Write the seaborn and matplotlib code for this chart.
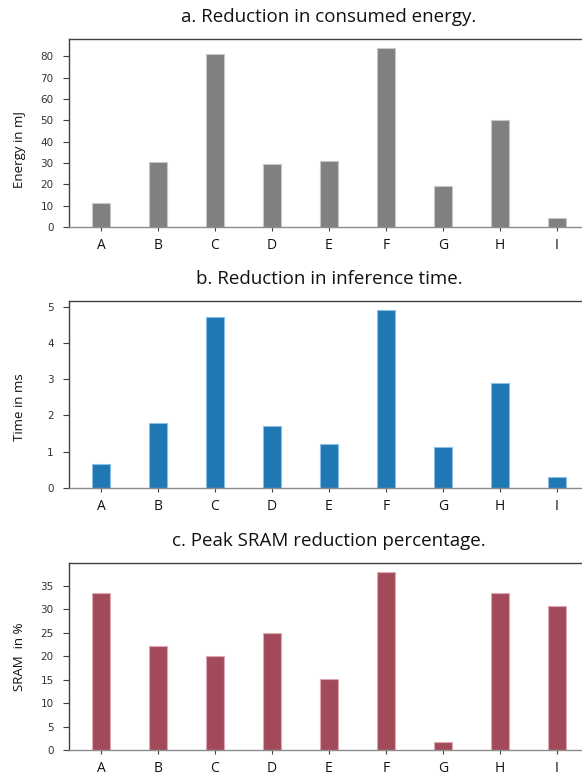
import matplotlib
matplotlib.use("Agg")
import matplotlib.pyplot as plt
import seaborn as sns

# data
models = ["A", "B", "C", "D", "E", "F", "G", "H", "I"]
energy_mj = [11.1, 30.7, 81.1, 29.5, 31.0, 84.0, 19.4, 50.0, 4.3]
time_ms = [0.66, 1.79, 4.71, 1.72, 1.21, 4.91, 1.14, 2.89, 0.29]
sram_pct = [33.4, 22.2, 20.0, 24.9, 15.1, 38.0, 1.7, 33.4, 30.8]

titles = ["a. Reduction in consumed energy.",
          "b. Reduction in inference time.",
          "c. Peak SRAM reduction percentage."]
ylabels = ["Energy in mJ", "Time in ms", "SRAM  in %"]

sns.set_style("ticks")
plt.rcParams['font.family'] = ['Open Sans', 'DejaVu Sans']

W, H = 582, 781
fig = plt.figure(figsize=(W / 100, H / 100), dpi=100)

# axes boxes in pixels: (top, bottom) of each panel
boxes = [(39, 227), (301, 488), (563, 750)]
label_y = [0.41, 0.43, 0.5]
colors = ["#808080", "#1f77b4", "#a34a5a"]
edges = ["#c8c8c8", "#8cbfe6", "#e0a8b4"]
series = [energy_mj, time_ms, sram_pct]

left_px = 69
width_px = 9.12 * 57

for i, vals in enumerate(series):
    top, bot = boxes[i]
    ax = fig.add_axes([left_px / W, (H - bot) / H, width_px / W, (bot - top) / H])
    sns.barplot(x=models, y=vals, color=colors[i], saturation=1, width=0.32,
                edgecolor=edges[i], linewidth=0.8, ax=ax)
    ax.set_xlim(-0.56, 8.56)
    ax.set_ylim(0, max(vals) * 1.05)
    ax.spines['right'].set_visible(False)
    for s in ['left', 'top']:
        ax.spines[s].set_color('#404040')
        ax.spines[s].set_linewidth(1.0)
    ax.spines['bottom'].set_color('#8c8c8c')
    ax.spines['bottom'].set_linewidth(1.0)
    ax.tick_params(axis='y', labelsize=7.5, pad=7, length=4, color='#404040', labelcolor='#333333')
    ax.tick_params(axis='x', labelsize=10, pad=5, length=3, color='#404040', labelcolor='#111111')
    for t in ax.get_yticklabels():
        t.set_family('DejaVu Sans')
    ax.set_xlabel("")
    ax.set_ylabel(ylabels[i], fontsize=9.5, color='#111111')
    ax.yaxis.set_label_coords(-0.082, label_y[i])
    ax.set_title(titles[i], fontsize=13.5, pad=12, color='#111111')

fig.savefig("out.png", dpi=100)
